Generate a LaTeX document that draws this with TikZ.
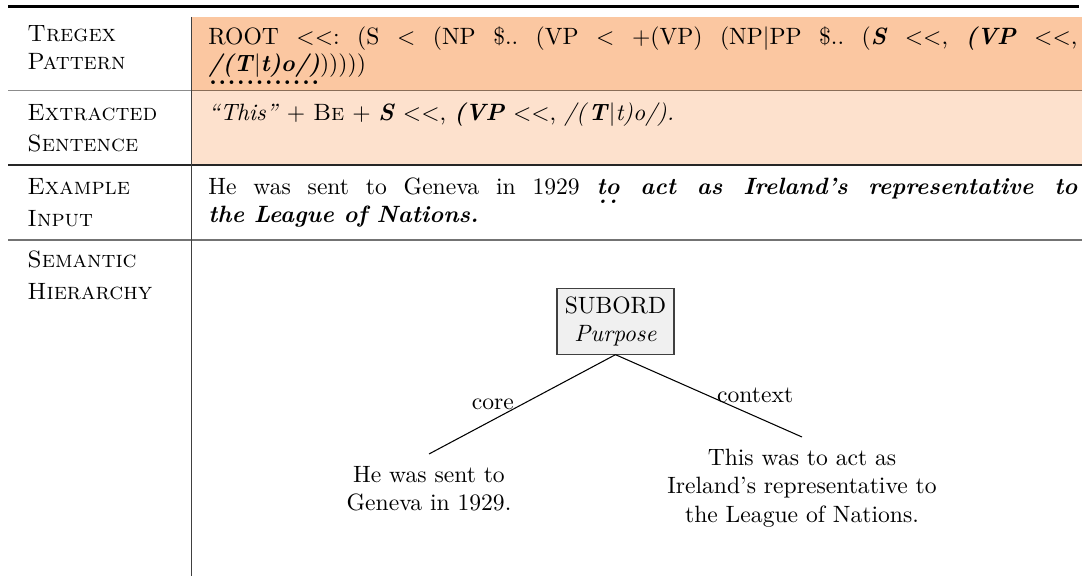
\documentclass[tikz,border=0pt]{standalone}
\usepackage{xcolor}
\definecolor{rowA}{RGB}{251,199,161}
\definecolor{rowB}{RGB}{253,225,205}
\newcommand\bi[1]{\textbf{\textit{#1}}}
\newcommand\LT{\ensuremath{<}}
\newcommand\dotul[2][-5.3pt]{\setbox0\hbox{#2}\rlap{\raisebox{#1}[0pt][0pt]{\hbox to \wd0{\xleaders\hbox to 3.9pt{\hss\textbf{.}\hss}\hfil}}}\box0\relax}
\frenchspacing
\begin{document}
\frenchspacing
\begin{tikzpicture}[x=0.4237pt,y=-0.4237pt,
  txt/.style={anchor=base west, inner sep=0pt},
  hdr/.style={anchor=base west, inner sep=0pt, font=\scshape},
  leaf/.style={align=center, anchor=north, inner sep=5pt},
  rel/.style={draw=black!75, fill=black!6, align=center, inner sep=3.33pt, line width=0.45pt},
  link/.style={line width=0.45pt}]
\useasboundingbox (0,0) rectangle (1082,576);
% row fills
\fill[rowA] (192,17) rectangle (1082,90.7);
\fill[rowB] (192,90.7) rectangle (1082,165);
% rules
\draw[line width=1.2pt] (8,6.5) -- (1079,6.5);
\draw[black, opacity=0.45, line width=0.45pt] (8,90.7) -- (1082,90.7);
\draw[black!85, line width=0.45pt] (8,165) -- (1082,165);
\draw[black!55, line width=0.7pt] (8,240) -- (1082,240);
\draw[black!75, line width=0.45pt] (191.7,17) -- (191.7,576);
% header column
\node[hdr] (h1a) at (27,42) {Tregex};
\node[hdr] (h1b) at (27,70) {Pattern};
\node[hdr] (h2a) at (27,121) {Extracted};
\node[hdr] (h2b) at (27,152) {Sentence};
\node[hdr] (h3a) at (27,195) {Example};
\node[hdr] (h3b) at (27,227) {Input};
\node[hdr] (h4a) at (27,268) {Semantic};
\node[hdr] (h4b) at (27,300) {Hierarchy};
% row 1
\node[txt] (p1) at (208,45) {\makebox[368.2pt][s]{ROOT \LT\LT: (S \LT{} (NP \$.. (VP \LT{} +(VP) (NP|PP \$.. (\bi{S} \LT\LT, \bi{(VP} \LT\LT,}};
\node[txt] (p2) at (208,72) {\dotul{\bi{/(T}|\bi{t)o/)}})))))};
% row 2
\node[txt] (e1) at (208,121) {\textit{``This''} + \textsc{Be} + \bi{S} \LT\LT, \bi{(VP} \LT\LT, \textit{/(}\bi{T}|\textit{t)o/).}};
% row 3
\node[txt] (x1) at (208,195) {\makebox[368.2pt][s]{He was sent to Geneva in 1929 \bi{\dotul[-3.6pt]{to} act as Ireland's representative to}}};
\node[txt] (x2) at (208,223) {\bi{the League of Nations.}};
% tree
\node[rel] (root) at (615.5,321.5) {SUBORD\\\textit{Purpose}};
\node[leaf] (core) at (429,454) {He was sent to\\Geneva in 1929.};
\node[leaf] (ctx) at (802,437) {This was to act as\\Ireland's representative to\\the League of Nations.};
\draw[link] (root.south) -- node[midway, left] {core} (core.north);
\draw[link] (root.south) -- node[midway, right] {context} (ctx.north);
\end{tikzpicture}
\end{document}
